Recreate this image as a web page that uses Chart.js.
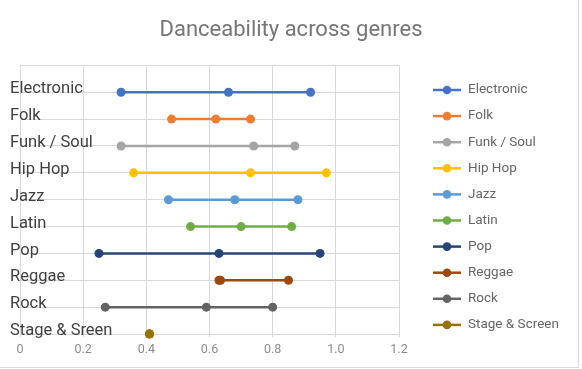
<!DOCTYPE html>
<html>
<head>
<meta charset="utf-8">
<script src="https://cdn.jsdelivr.net/npm/chart.js@4"></script>
<style>
  html, body { margin: 0; padding: 0; background: #fff; }
  #wrap { position: relative; width: 582px; height: 369px; }
  #frame { position: absolute; left: 0; top: 0; width: 578px; height: 367px;
           border-right: 1px solid #d9d9d9; border-bottom: 1px solid #d9d9d9; }
  canvas { position: absolute; left: 0; top: 0; }
</style>
</head>
<body>
<div id="wrap">
  <div id="frame"></div>
  <canvas id="chart" width="582" height="369"></canvas>
</div>
<script>
// danceability per genre: lower, middle and upper values
const genres = ['Electronic', 'Folk', 'Funk / Soul', 'Hip Hop', 'Jazz', 'Latin', 'Pop', 'Reggae', 'Rock', 'Stage & Screen'];
const axisLabels = ['', 'Electronic', 'Folk', 'Funk / Soul', 'Hip Hop', 'Jazz', 'Latin', 'Pop', 'Reggae', 'Rock', 'Stage & Sreen'];
const lowValues  = [0.32, 0.48, 0.32, 0.36, 0.47, 0.54, 0.25, 0.63, 0.27, 0.41];
const midValues  = [0.66, 0.62, 0.74, 0.73, 0.68, 0.70, 0.63, 0.635, 0.59, 0.41];
const highValues = [0.92, 0.73, 0.87, 0.97, 0.88, 0.86, 0.95, 0.85, 0.80, 0.41];
const xTicks = [0, 0.2, 0.4, 0.6, 0.8, 1, 1.2];

const colors = ['#4472C4', '#ED7D31', '#A5A5A5', '#FFC000', '#5B9BD5', '#70AD47', '#264478', '#9E480E', '#636363', '#997300'];

Chart.defaults.font.family = 'Roboto';
Chart.defaults.animation = false;

const datasets = genres.map((g, i) => ({
  label: g,
  data: [lowValues[i], midValues[i], highValues[i]].map(v => ({ x: v, y: axisLabels[i + 1] })),
  borderColor: colors[i],
  backgroundColor: colors[i],
  pointBackgroundColor: colors[i],
  borderWidth: 2.5,
  pointRadius: 4.5,
  pointHoverRadius: 4.5,
  pointBorderWidth: 0,
  tension: 0
}));

// legend on the right: line with a dot, then the name
const sideLegend = {
  id: 'sideLegend',
  afterDraw(chart) {
    const ctx = chart.ctx;
    ctx.save();
    ctx.font = '13.5px Roboto';
    ctx.textBaseline = 'middle';
    ctx.textAlign = 'left';
    chart.data.datasets.forEach((ds, i) => {
      const y = 90 + i * 26.1;
      ctx.strokeStyle = ds.borderColor;
      ctx.lineWidth = 2.5;
      ctx.beginPath(); ctx.moveTo(433, y); ctx.lineTo(461, y); ctx.stroke();
      ctx.fillStyle = ds.borderColor;
      ctx.beginPath(); ctx.arc(447, y, 4.3, 0, Math.PI * 2); ctx.fill();
      ctx.fillStyle = '#666666';
      ctx.fillText(ds.label, 468, y);
    });
    ctx.restore();
  }
};

new Chart(document.getElementById('chart'), {
  type: 'line',
  data: { datasets: datasets },
  plugins: [sideLegend],
  options: {
    responsive: false,
    layout: { padding: { left: 0, right: 0, top: 10, bottom: 6 } },
    scales: {
      x: {
        type: 'linear',
        min: 0, max: 1.2,
        afterBuildTicks: s => { s.ticks = xTicks.map(v => ({ value: v })); },
        grid: { color: '#d9d9d9', tickLength: 3 },
        border: { color: '#d9d9d9' },
        ticks: { color: '#8c8c8c', font: { size: 12.5 }, padding: 5.5 }
      },
      y: {
        type: 'category',
        labels: axisLabels,
        afterFit: s => { s.width = 20; },
        grid: { color: '#d9d9d9', drawTicks: false },
        border: { color: '#d9d9d9' },
        ticks: { mirror: true, padding: -10, labelOffset: -3, color: '#404040', font: { size: 16.5 } }
      },
      // empty strip that keeps room for the legend
      legendSpace: {
        type: 'linear',
        position: 'right',
        afterFit: s => { s.width = 183; },
        grid: { display: false },
        border: { display: false },
        ticks: { display: false }
      }
    },
    plugins: {
      title: {
        display: true,
        text: 'Danceability across genres',
        color: '#767676',
        font: { size: 22, weight: 'normal' },
        padding: { top: 7, bottom: 22 }
      },
      legend: { display: false },
      tooltip: { enabled: false }
    }
  }
});
</script>
</body>
</html>
